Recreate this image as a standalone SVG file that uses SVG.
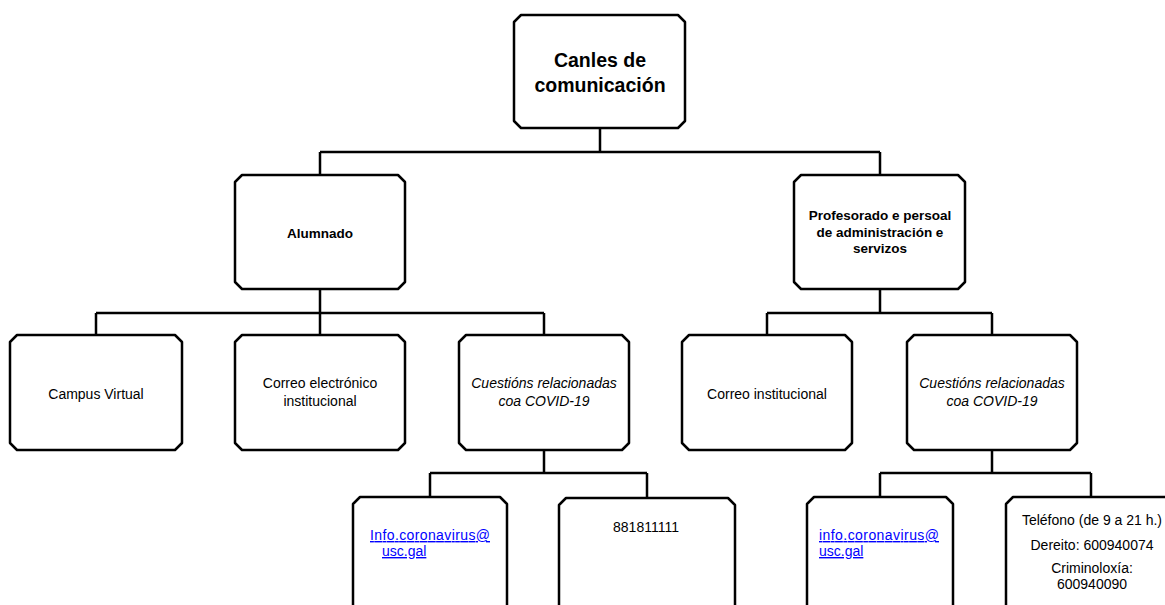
<svg xmlns="http://www.w3.org/2000/svg" width="1165" height="605" viewBox="0 0 1165 605">
<style>
.box{fill:#fff;stroke:#000;stroke-width:2.5;stroke-linejoin:round}
.con{fill:none;stroke:#000;stroke-width:2.5}
text{font-family:"Liberation Sans",Arial,sans-serif;fill:#000;font-size:14px}
.c{text-anchor:middle}
.b{font-weight:bold}
.i{font-style:italic}
.lnk{fill:#0000ff;text-decoration:underline;font-size:14px}
</style>
<rect width="1165" height="605" fill="#fff"/>
<g id="connectors">
<path class="con" d="M600,128V152M320,152H880M320,152V175M880,152V175"/>
<path class="con" d="M320,289V313M96,313H544M96,313V335M320,313V335M544,313V335"/>
<path class="con" d="M880,289V313M767,313H992M767,313V335M992,313V335"/>
<path class="con" d="M544,450V473M430,473H647M430,473V497M647,473V498"/>
<path class="con" d="M992,450V473M880,473H1091M880,473V497M1091,473V497"/>
</g>
<g id="n-canles">
<path class="box" d="M521,15H678L685,22V121L678,128H521L514,121V22Z"/>
<text class="c b" x="600" y="67" style="font-size:19.5px">Canles de</text>
<text class="c b" x="600" y="92" style="font-size:19.5px">comunicación</text>
</g>
<g id="n-alumnado">
<path class="box" d="M242,175H398L405,182V282L398,289H242L235,282V182Z"/>
<text class="c b" x="320" y="238" style="font-size:13.5px">Alumnado</text>
</g>
<g id="n-profesorado">
<path class="box" d="M801,175H958L965,182V282L958,289H801L794,282V182Z"/>
<text class="c b" x="880" y="220" style="font-size:13.5px">Profesorado e persoal</text>
<text class="c b" x="880" y="237" style="font-size:13.5px">de administración e</text>
<text class="c b" x="880" y="253" style="font-size:13.5px">servizos</text>
</g>
<g id="n-campus">
<path class="box" d="M17,335H175L182,342V443L175,450H17L10,443V342Z"/>
<text class="c" x="96" y="399">Campus Virtual</text>
</g>
<g id="n-correo-el">
<path class="box" d="M242,335H398L405,342V443L398,450H242L235,443V342Z"/>
<text class="c" x="320" y="388">Correo electrónico</text>
<text class="c" x="320" y="406">institucional</text>
</g>
<g id="n-covid-a">
<path class="box" d="M466,335H622L629,342V443L622,450H466L459,443V342Z"/>
<text class="c i" x="544" y="388">Cuestións relacionadas</text>
<text class="c i" x="544" y="406">coa COVID-19</text>
</g>
<g id="n-correo-inst">
<path class="box" d="M689,335H845L852,342V443L845,450H689L682,443V342Z"/>
<text class="c" x="767" y="399">Correo institucional</text>
</g>
<g id="n-covid-p">
<path class="box" d="M914,335H1070L1077,342V443L1070,450H914L907,443V342Z"/>
<text class="c i" x="992" y="388">Cuestións relacionadas</text>
<text class="c i" x="992" y="406">coa COVID-19</text>
</g>
<g id="n-email-a">
<path class="box" d="M360,497H500L507,504V620H353V504Z"/>
<text class="lnk" x="370" y="540" textLength="120" lengthAdjust="spacing">Info.coronavirus@</text>
<text class="lnk" x="382" y="556">usc.gal</text>
</g>
<g id="n-tel-a">
<path class="box" d="M566,498H728L735,505V620H559V505Z"/>
<text class="c" x="646" y="532">881811111</text>
</g>
<g id="n-email-p">
<path class="box" d="M814,497H946L953,504V620H807V504Z"/>
<text class="lnk" x="819" y="540" textLength="120" lengthAdjust="spacing">info.coronavirus@</text>
<text class="lnk" x="819" y="556">usc.gal</text>
</g>
<g id="n-tel-p">
<path class="box" d="M1013,497H1171L1178,504V620H1006V504Z"/>
<text class="c" x="1092" y="525">Teléfono (de 9 a 21 h.)</text>
<text class="c" x="1092" y="550">Dereito: 600940074</text>
<text class="c" x="1092" y="573">Criminoloxía:</text>
<text class="c" x="1092" y="589">600940090</text>
</g>
</svg>
